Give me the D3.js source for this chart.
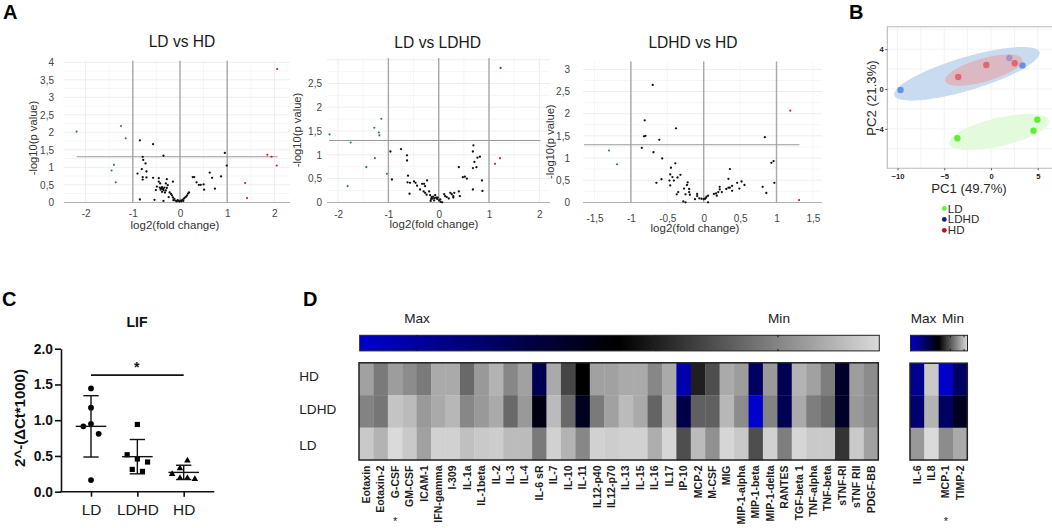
<!DOCTYPE html>
<html><head><meta charset="utf-8">
<script src="https://cdn.jsdelivr.net/npm/d3@7"></script>
<style>
html,body{margin:0;padding:0;background:#fff}
svg{display:block}
text{font-family:"Liberation Sans",Arial,sans-serif}
</style></head><body><svg id="c" width="1052" height="528"></svg>
<script>
// ---------- Panel A data: [log2FC, -log10 p]
const a1Green=[[-2.19,2.02],[-1.25,2.18],[-1.15,1.83],[-1.40,1.07],[-1.45,0.91],[-1.36,0.57]];
const a1Red=[[2.06,3.81],[1.85,1.36],[1.94,1.30],[2.05,1.05],[1.38,0.55],[1.42,0.12]];
const a1Black=[[-.85,1.77],[-.57,1.66],[-.35,1.33],[.95,1.41],[.99,1.05],[-.79,1.30],[-.78,1.21],[-.73,1.11],[-.81,.95],[-.71,.88],[-.90,.82],[-.79,.72],[-.79,.65],[-.71,.71],[-.57,.70],[-.45,.69],[-.45,.59],[-.42,.54],[-.28,.66],[-.15,.59],[-.30,.54],[-.26,.49],[-.49,.45],[-.51,.35],[-.40,.40],[-.35,.35],[-.32,.28],[-.43,.42],[-.38,.43],[-.36,.38],[-.41,.36],[-.33,.42],[-.30,.34],[-.38,.30],[-.28,.41],[-.85,.08],[-.54,.07],[-.35,.04],
[-.22,.28],[-.19,.24],[-.17,.2],[-.24,.15],[-.15,.14],[-.12,.1],[-.14,.06],[-.1,.05],[-.07,.03],[-.05,.06],[-.03,.04],[-.01,.02],[.01,.05],[.03,.03],[.05,.07],[.07,.04],[.08,.1],[.1,.13],[.13,.16],[.15,.2],[.17,.25],[.19,.28],
[.27,.72],[.30,.72],[.35,.57],[.40,.50],[.44,.50],[.50,.51],[.51,.36],[.63,.85],[.68,.70],[.74,.39],[.87,.74]];
const a2Green=[[-2.17,1.43],[-1.14,1.76],[-1.28,1.57],[-1.19,1.47],[-1.18,1.41],[-1.75,1.26],[-1.27,.93],[-1.44,.74],[-1.03,.60],[-1.81,.34]];
const a2Red=[[1.23,2.83],[1.22,.93],[1.12,.81]];
const a2Black=[[-.75,1.12],[-.96,1.07],[-.63,.99],[-.63,.88],[-.61,.56],[-.62,.42],[-.57,.41],[-.93,.48],[-.58,.18],[-.49,.44],[-.46,.41],[-.43,.35],[-.37,.27],[-.33,.39],[-.29,.39],[-.27,.34],[-.23,.46],[-.3,.23],[-.27,.2],[-.24,.16],[-.19,.23],[-.17,.15],[-.14,.11],[-.16,.03],[-.12,.08],[-.07,.15],[-.09,.04],[-.05,.1],[-.03,.07],[.01,.04],[.04,.01],[.03,.06],[.07,0],[-.15,.07],[-.11,.12],[-.08,.09],[-.02,.1],
[.11,.17],[.13,.13],[.16,.11],[.2,.08],[.23,.2],[.26,.17],[.29,.13],[.31,.2],[.29,.1],[.4,.23],[.42,.13],[.4,.74],[.48,.53],[.52,.54],[.56,.5],[.69,1.2],[.68,1.07],[.77,.94],[.82,.96],[.71,.85],[.68,.72],[.75,.74],[.86,.46],[.68,.27],[.87,.24]];
const a3Green=[[-1.30,1.17],[-1.19,.86]];
const a3Red=[[1.19,2.07],[1.31,.05]];
const a3Black=[[-.70,2.65],[-.81,1.85],[-.82,1.49],[-.8,1.5],[-.38,1.67],[-.61,1.41],[-.85,1.23],[-.69,1.13],[-.57,.99],[-.39,.88],[-.45,.78],[-.46,.63],[-.43,.57],[-.36,.56],[-.32,.62],[-.47,.49],[-.41,.49],[-.58,.52],[-.65,.44],[-.46,.38],[-.22,.45],[-.23,.39],[-.27,.31],[-.2,.3],[-.2,.23],[-.35,.23],[-.37,.18],[-.25,.18],[-.19,.17],[-.28,.02],[-.25,0],[-.12,.07],[-.09,.19],[-.09,.14],[-.06,.09],[-.03,.08],[0,.07],[.02,.08],[.04,.13],[.06,.15],[.03,.1],[.06,0],
[.14,.19],[.17,.2],[.18,.15],[.2,.23],[.22,.29],[.22,.35],[.25,.23],[.31,.3],[.34,.33],[.34,.53],[.36,.75],[.36,.33],[.39,.37],[.39,.26],[.46,.44],[.49,.31],[.52,.47],[.56,.39],[.81,.35],[.86,.21],[.84,1.47],[.93,.89],[.96,.93],[.97,.44]];
const a1XTicks=[-2,-1,0,1,2], a1YTicks=[0,.5,1,1.5,2,2.5,3,3.5,4];
const a2XTicks=[-2,-1,0,1,2], a2YTicks=[0,.5,1,1.5,2,2.5];
const a3XTicks=[-1.5,-1,-.5,0,.5,1,1.5], a3YTicks=[0,.5,1,1.5,2,2.5,3];
const threshold=1.3;

// ---------- Panel B data
const pcaLD=[[-3.6,-4.95],[4.54,-4.18],[4.96,-3.08]];
const pcaLDHD=[[-9.68,-.1],[1.96,3.11],[3.36,2.37]];
const pcaHD=[[-3.5,1.2],[-.5,2.41],[2.54,2.58]];
// centre x, centre y, semi-axis a, semi-axis b (PC units), tilt (deg)
const ellLD=[.86,-4.33,5.48,1.43,13];
const ellLDHD=[-2.57,1.53,8.1,1.67,16.6];
const ellHD=[-.78,1.9,4.28,1.16,16];
const pcaGroups=["LD","LDHD","HD"];
const pcXTicks=[-10,-5,0,5], pcYTicks=[-4,0,4];

// ---------- Panel C data (x in category units: 0 LD, 1 LDHD, 2 HD)
const lifCats=["LD","LDHD","HD"];
const lifLD=[[0,1.445],[0,1.175],[-.165,.914],[0,.95],[.165,.81],[0,.163]];
const lifLDHD=[[1,.94],[.78,.517],[1,.457],[1.22,.415],[.89,.312],[1.11,.284]];
const lifHD=[[2.08,.434],[1.92,.326],[1.75,.247],[1.92,.19],[2.08,.19],[2.24,.177]];
const lifMean=[.914,.49,.27], lifUp=[1.343,.73,.37], lifLow=[.485,.25,.17];
const lifTicks=[0,.5,1,1.5,2];

// ---------- Panel D data (0 = lightest/min, 50 = black, 100 = blue/max)
const cyto=["Eotaxin","Eotaxin-2","G-CSF","GM-CSF","ICAM-1","IFN-gamma","I-309","IL-1a","IL-1beta","IL-2","IL-3","IL-4","IL-6 sR","IL-7","IL-10","IL-11","IL12-p40","IL12-p70","IL-13","IL-15","IL-16","IL17","IP-10","MCP-2","M-CSF","MIG","MIP-1-alpha","MIP-1-beta","MIP-1-delta","RANTES","TGF-beta 1","TNF-alpha","TNF-beta","sTNF-RI","sTNF RII","PDGF-BB"];
const rows=["HD","LDHD","LD"];
const hdVals=[13,22,14,18,22,11,11,26,15,9,19,13,70,11,34,50,13,13,11,11,19,11,93,43,32,11,14,74,15,70,9,13,21,60,14,18];
const ldhdVals=[20,23,5,7,15,11,8,19,15,11,26,15,55,7,26,58,22,13,7,11,27,9,68,28,28,8,18,100,20,70,11,21,25,60,15,18];
const ldVals=[4,9,0,4,13,2,2,6,4,3,7,7,22,2,9,19,2,3,2,2,10,1,32,7,17,1,4,32,2,21,1,4,4,38,4,13];
const cyto2=["IL-6","IL8","MCP-1","TIMP-2"];
const hdVals2=[85,4,99,74], ldhdVals2=[77,9,74,58], ldVals2=[15,0,18,11];
const barTicks1=[89,66,43,19.5], barTicks2=[80,30,6];

const svg=d3.select("#c");
const FONT_DARK="#2a2a2a";
function label(t,x,y,o={}){
  const e=svg.append("text").attr("x",x).attr("y",y).text(t)
    .attr("font-size",o.size||11).attr("fill",o.fill||FONT_DARK)
    .attr("text-anchor",o.anchor||"middle").attr("font-weight",o.weight||"normal");
  if(o.rot) e.attr("transform",`rotate(${o.rot} ${x} ${y})`);
  return e;
}
[["A",3,18.5],["B",849,18.5],["C",2,306],["D",303,306]].forEach(d=>
  label(d[0],d[1],d[2],{size:20,weight:"bold",anchor:"start",fill:"#000"}));

// ---------- Volcano
const comma=d=>String(d).replace(".",",");
function volcano(c){
  const x=d3.scaleLinear().domain([-1,1]).range([c.x0-c.kx,c.x0+c.kx]);
  const y=d3.scaleLinear().domain([0,1]).range([202.3,202.3-c.ky]);
  const g=svg.append("g");
  const top=c.top;
  const yMax=y.invert(top), xMin=x.invert(c.left), xMax=x.invert(c.right);
  d3.range(Math.ceil(xMin*2)/2,xMax,.5).forEach(v=>g.append("line").attr("x1",x(v)).attr("x2",x(v)).attr("y1",top).attr("y2",202.3).attr("stroke",Number.isInteger(v)?"#eeeeee":"#f6f6f6"));
  d3.range(.25,yMax,.25).forEach(v=>g.append("line").attr("x1",c.left).attr("x2",c.right).attr("y1",y(v)).attr("y2",y(v)).attr("stroke",Number.isInteger(v*2)?"#eeeeee":"#f6f6f6"));
  const ax=d3.axisBottom(x).tickValues(c.xt).tickSize(0).tickPadding(c.xPad).tickFormat(comma);
  const gx=g.append("g").attr("transform","translate(0,202.3)").call(ax);
  gx.select(".domain").remove();
  gx.selectAll("text").attr("font-size",10).attr("fill","#444").attr("font-family","'Liberation Sans',Arial,sans-serif");
  const ay=d3.axisLeft(y).tickValues(c.yt).tickSize(0).tickPadding(0).tickFormat(comma);
  const gy=g.append("g").attr("transform",`translate(${c.yLabX},0)`).call(ay);
  gy.select(".domain").remove();
  gy.selectAll("text").attr("font-size",10).attr("fill","#444").attr("font-family","'Liberation Sans',Arial,sans-serif");
  g.append("line").attr("x1",c.left).attr("x2",c.right).attr("y1",202.5).attr("y2",202.5).attr("stroke","#b0b0b0").attr("stroke-width",1);
  [-1,0,1].forEach(v=>g.append("line").attr("x1",x(v)).attr("x2",x(v)).attr("y1",top).attr("y2",202.3).attr("stroke","#a8a8a8").attr("stroke-width",1.4));
  g.append("line").attr("x1",c.tL).attr("x2",c.tR).attr("y1",y(threshold)).attr("y2",y(threshold)).attr("stroke","#9a9a9a").attr("stroke-width",1.1);
  const dots=(arr,col,r)=>g.selectAll(null).data(arr).join("circle").attr("cx",d=>x(d[0])).attr("cy",d=>y(d[1])).attr("r",r).attr("fill",col);
  dots(c.black,"#111",1.15); dots(c.green,"#1d7f62",1.05); dots(c.red,"#c8163a",1.05);
  label(c.title,c.tx,c.ty,{size:15.6,fill:"#1a1a1a"});
  label("log2(fold change)",c.xlx,c.xly,{size:11.5,fill:"#333"});
  label("-log10(p value)",c.ylx,c.yly,{size:11.2,rot:-90,fill:"#333"});
}
volcano({x0:180,kx:47.2,ky:35,left:64,right:290,top:60.7,tL:76.7,tR:277.7,xPad:7.4,yLabX:54,xt:a1XTicks,yt:a1YTicks,green:a1Green,red:a1Red,black:a1Black,title:"LD vs HD",tx:182,ty:46.7,xlx:175,xly:229,ylx:37,yly:138});
volcano({x0:438.7,kx:50.3,ky:47.5,left:327,right:550,top:58,tL:329,tR:540.5,xPad:8.4,yLabX:322,xt:a2XTicks,yt:a2YTicks,green:a2Green,red:a2Red,black:a2Black,title:"LD vs LDHD",tx:437.7,ty:48.3,xlx:434,xly:228,ylx:301,yly:130});
volcano({x0:703.7,kx:72.8,ky:44.3,left:583,right:822,top:61.5,tL:584,tR:799.5,xPad:12.4,yLabX:570,xt:a3XTicks,yt:a3YTicks,green:a3Green,red:a3Red,black:a3Black,title:"LDHD vs HD",tx:693,ty:48,xlx:695,xly:232,ylx:554,yly:141.7});

// ---------- PCA
(function(){
  const x=d3.scaleLinear().domain([-10,5]).range([991-93.5,991+46.75]);
  const y=d3.scaleLinear().domain([-4,4]).range([89+39.84,89-39.84]);
  const L=887.3,R=1052,T=26.7,B=168.3;
  const g=svg.append("g");
  d3.range(-10,6,2.5).forEach(v=>g.append("line").attr("x1",x(v)).attr("x2",x(v)).attr("y1",T).attr("y2",B).attr("stroke","#f3f3f3"));
  d3.range(-6,7,2).forEach(v=>g.append("line").attr("x1",L).attr("x2",R).attr("y1",y(v)).attr("y2",y(v)).attr("stroke","#f3f3f3"));
  const cols={LD:"#5cf02e",LDHD:"#6590e4",HD:"#e2666f"};
  const ell=(e,f)=>g.append("ellipse")
    .attr("cx",0).attr("cy",0)
    .attr("rx",x(e[2])-x(0)).attr("ry",y(0)-y(e[3]))
    .attr("transform",`translate(${x(e[0])},${y(e[1])}) rotate(${-e[4]})`).attr("fill",f);
  const dots=(a,c)=>g.selectAll(null).data(a).join("circle").attr("cx",d=>x(d[0])).attr("cy",d=>y(d[1])).attr("r",3.2).attr("fill",c);
  ell(ellLD,"#e3fadc"); dots(pcaLD,cols.LD);
  ell(ellLDHD,"#c9dcef"); dots(pcaLDHD,cols.LDHD);
  ell(ellHD,"rgba(240,150,150,.5)"); dots(pcaHD,cols.HD);
  g.append("path").attr("d",`M${R},${T}H${L}V${B}H${R}`).attr("fill","none").attr("stroke","#b8b8b8").attr("stroke-width",1.1);
  const ax=d3.axisBottom(x).tickValues(pcXTicks).tickSize(2).tickPadding(3.5).tickFormat(d3.format("d"));
  const gx=g.append("g").attr("transform",`translate(0,${B})`).call(ax);
  const ay=d3.axisLeft(y).tickValues(pcYTicks).tickSize(2).tickPadding(1.5).tickFormat(d3.format("d"));
  const gy=g.append("g").attr("transform",`translate(${L},0)`).call(ay);
  [gx,gy].forEach(a=>{a.select(".domain").remove();a.selectAll("line").attr("stroke","#555");
    a.selectAll("text").attr("font-size",7.6).attr("font-weight","bold").attr("fill","#222").attr("font-family","'Liberation Sans',Arial,sans-serif");});
  label("PC1 (49.7%)",969,193,{size:13.2});
  label("PC2 (21.3%)",876,98,{size:13.2,rot:-90});
  const legCols={LD:"#66ee33",LDHD:"#10246e",HD:"#c01020"};
  pcaGroups.forEach((n,i)=>{
    const yy=208.5+i*10.9;
    g.append("circle").attr("cx",944.3).attr("cy",yy).attr("r",2.4).attr("fill",legCols[n]);
    label(n,947.8,yy+4,{size:11.6,anchor:"start"});
  });
})();

// ---------- LIF dot plot
(function(){
  const x=d3.scaleLinear().domain([0,2]).range([91,183.7]);
  const y=d3.scaleLinear().domain([0,2]).range([491.7,348.7]);
  const g=svg.append("g");
  const ay=d3.axisLeft(y).tickValues(lifTicks).tickSize(6).tickSizeOuter(0).tickPadding(2).tickFormat(d3.format(".1f"));
  const gy=g.append("g").attr("transform","translate(61,0)").call(ay);
  gy.select(".domain").attr("stroke","#111").attr("stroke-width",1.6);
  gy.selectAll("line").attr("stroke","#111").attr("stroke-width",1.6);
  gy.selectAll("text").attr("font-size",13.8).attr("font-weight","bold").attr("fill","#111").attr("font-family","'Liberation Sans',Arial,sans-serif");
  g.append("line").attr("x1",60.2).attr("x2",214.3).attr("y1",491.7).attr("y2",491.7).attr("stroke","#111").attr("stroke-width",1.6);
  const ax=d3.axisBottom(x).tickValues([0,1,2]).tickSize(5).tickPadding(7).tickFormat(i=>lifCats[i]);
  const gx=g.append("g").attr("transform","translate(0,491.7)").call(ax);
  gx.select(".domain").remove();
  gx.selectAll("line").attr("stroke","#111").attr("stroke-width",1.6);
  gx.selectAll("text").attr("font-size",15.4).attr("fill","#1a1a1a").attr("font-family","'Liberation Sans',Arial,sans-serif");
  const syms=[[lifLD,d3.symbolCircle,26],[lifLDHD,d3.symbolSquare,27],[lifHD,d3.symbolTriangle,19]];
  syms.forEach(([arr,s,size])=>{
    g.selectAll(null).data(arr).join("path").attr("d",d3.symbol(s,size))
      .attr("transform",d=>`translate(${x(d[0])},${y(d[1])})`).attr("fill","#000");
  });
  const px=x(1)-x(0);
  lifMean.forEach((m,i)=>{
    const cx=x(i), st=l=>l.attr("stroke","#111").attr("stroke-width",1.4);
    st(g.append("line").attr("x1",cx-.33*px).attr("x2",cx+.33*px).attr("y1",y(m)).attr("y2",y(m)));
    st(g.append("line").attr("x1",cx).attr("x2",cx).attr("y1",y(lifUp[i])).attr("y2",y(lifLow[i])));
    [lifUp[i],lifLow[i]].forEach(v=>st(g.append("line").attr("x1",cx-.165*px).attr("x2",cx+.165*px).attr("y1",y(v)).attr("y2",y(v))));
  });
  g.append("line").attr("x1",x(0)).attr("x2",x(2)).attr("y1",y(1.63)).attr("y2",y(1.63)).attr("stroke","#111").attr("stroke-width",1.6);
  label("*",136.7,372,{size:14,weight:"bold",fill:"#111"});
  label("LIF",137,326.7,{size:14,weight:"bold",fill:"#111"});
  label("2^-(\u0394Ct*1000)",25,418,{size:15,weight:"bold",rot:-90,fill:"#111"});
})();

// ---------- Heatmaps
const color=d3.scaleLinear().domain([0,50,100]).range(["#dadada","#000000","#0000cc"]);
function heat(names,vals,L,R,T,B,star){
  const x=d3.scaleBand().domain(names).range([L,R]);
  const y=d3.scaleBand().domain(rows).range([T,B]);
  const g=svg.append("g");
  rows.forEach((r,ri)=>g.selectAll(null).data(vals[ri]).join("rect")
    .attr("x",(d,i)=>x(names[i])).attr("y",y(r)).attr("width",x.bandwidth()+.3).attr("height",y.bandwidth()+.3).attr("fill",d=>color(d)));
  g.append("rect").attr("x",L).attr("y",T).attr("width",R-L).attr("height",B-T).attr("fill","none").attr("stroke","#222").attr("stroke-width",1.5);
  const ax=d3.axisBottom(x).tickSize(0).tickPadding(0);
  const gx=g.append("g").attr("transform",`translate(0,${B})`).call(ax);
  gx.select(".domain").remove();
  gx.selectAll("text").attr("font-size",10.5).attr("font-weight","bold").attr("fill","#1c1c1c")
    .attr("font-family","'Liberation Sans',Arial,sans-serif")
    .attr("text-anchor","end").attr("dy",0).attr("y",0)
    .attr("transform","translate(3.6,5.5) rotate(-90)");
  label("*",x(star)+x.bandwidth()/2,525.3,{size:11,fill:"#222"});
}
function bar(id,L,R,ticks){
  const s=d3.scaleLinear().domain([100,0]).range([L,R]);
  const gr=svg.append("defs").append("linearGradient").attr("id",id);
  [100,75,50,25,0].forEach(v=>gr.append("stop").attr("offset",(100-v)+"%").attr("stop-color",color(v)));
  svg.append("rect").attr("x",L).attr("y",335.3).attr("width",R-L).attr("height",15.6).attr("fill",`url(#${id})`).attr("stroke","#222").attr("stroke-width",1);
  ticks.forEach(v=>{
    [[335.3,337.3],[349,351]].forEach(p=>svg.append("line").attr("x1",s(v)).attr("x2",s(v)).attr("y1",p[0]).attr("y2",p[1]).attr("stroke","#111").attr("stroke-width",1));
  });
}
heat(cyto,[hdVals,ldhdVals,ldVals],359,878.3,362.8,460,"G-CSF");
heat(cyto2,[hdVals2,ldhdVals2,ldVals2],910,967.3,363.2,460,"MCP-1");
bar("g1",359.7,879.3,barTicks1);
bar("g2",910.5,967.5,barTicks2);
label("Max",417,323.3,{size:13.6,fill:"#222"});
label("Min",779,323.3,{size:13.6,fill:"#222"});
label("Max",923.5,323.3,{size:13.6,fill:"#222"});
label("Min",953,323.3,{size:13.6,fill:"#222"});
[["HD",381],["LDHD",414.3],["LD",450]].forEach(d=>label(d[0],299.3,d[1],{size:13.6,anchor:"start",fill:"#222"}));
</script></body></html>
